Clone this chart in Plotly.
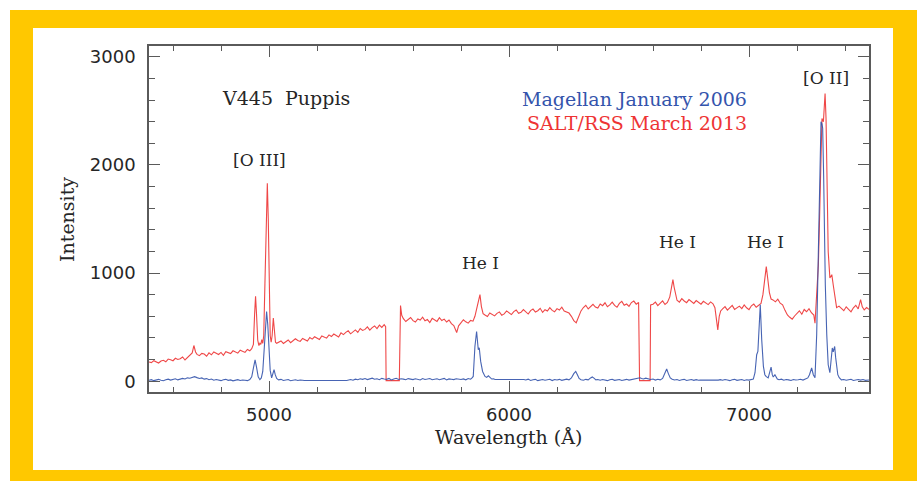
import plotly.graph_objects as go

# ---------------- data ----------------
# SALT/RSS March 2013 (red)
salt_wl = [
    4500,4510,4520,4530,4540,4550,4560,4570,4580,4590,4600,4610,4620,4630,4640,4650,4660,4670,4680,4687,4694,
    4700,4710,4720,4730,4740,4750,4760,4770,4780,4790,4800,4810,4820,4830,4840,4850,4860,4870,4880,4890,4900,4910,4920,4928,
    4935,4940,4944,4948,4953,4958,4962,4966,4970,4974,4978,4983,4988,4993,4997,5001,5005,5009,5013,5018,5022,5027,5032,
    5040,5050,5060,5070,5080,5090,5100,5110,5120,5130,5140,5150,5160,5170,5180,5190,5200,5210,5220,5230,5240,5250,
    5260,5270,5280,5290,5300,5310,5320,5330,5340,5350,5360,5370,5380,5390,5400,5410,5420,5430,5440,5450,5460,5470,
    5480,5486,5488,5543,5545,5548,5553,
    5560,5570,5580,5590,5600,5610,5620,5630,5640,5650,5660,5670,5680,5690,5700,5710,5720,5730,5740,5750,5760,5770,
    5782,5790,5800,5810,5820,5830,5840,5850,5858,5866,5873,5879,5885,5892,
    5900,5910,5920,5930,5940,5950,5960,5970,5980,5990,6000,6010,6020,6030,6040,6050,6060,6070,6080,6090,
    6100,6110,6120,6130,6140,6150,6160,6170,6180,6190,6200,6210,6220,6230,6240,
    6250,6260,6270,6280,6290,6300,
    6310,6320,6330,6340,6350,6360,6370,6380,6390,6400,6410,6420,6430,6440,6450,6460,6470,6480,6490,6500,6510,6520,6530,6540,
    6544,6588,6590,
    6600,6610,6620,6630,6640,6650,6660,
    6670,6678,6683,6688,6695,
    6700,6710,6720,6730,6740,6750,6760,6770,6780,6790,6800,6810,6820,6830,6840,6850,
    6858,6864,6870,6876,6882,
    6890,6900,6910,6920,6930,6940,6950,6960,6970,6980,6990,7000,7010,7020,7030,7040,
    7050,7058,7066,7072,7078,7085,7092,
    7100,7110,7120,7130,7140,7150,7160,7170,7180,7190,7200,7210,7220,7230,7240,7250,7260,7270,
    7275,7282,7289,7293,7299,7304,7310,7314,7317,7321,7324,7330,7337,7345,7351,7358,7365,
    7375,7385,7395,7405,7415,7425,7435,7445,7455,7465,7472,7480,7490,7500]
salt_int = [
    178,172,190,181,168,186,193,179,205,198,189,212,201,207,224,196,218,232,262,330,270,
    248,236,257,251,231,262,244,270,259,247,266,240,272,263,255,281,268,259,287,274,266,293,281,300,
    340,620,785,620,380,330,350,340,385,350,420,900,1500,1830,1500,900,420,360,420,585,460,360,350,
    358,372,349,365,381,356,370,392,377,368,395,381,372,404,389,411,396,385,419,407,398,428,
    413,436,421,409,447,431,452,466,438,459,474,451,487,469,479,502,472,495,511,486,518,497,
    523,505,5,5,600,700,610,
    578,552,571,589,560,547,575,566,592,558,570,543,581,569,553,588,561,574,547,566,532,515,
    450,512,541,568,549,537,562,555,600,680,770,800,690,625,
    612,598,631,618,604,627,641,609,622,650,633,616,644,659,628,637,662,645,621,653,
    667,640,652,674,636,661,649,680,655,642,671,658,684,649,640,
    630,600,560,540,590,650,
    681,702,668,694,711,686,677,714,698,725,689,706,731,701,684,719,738,703,714,692,727,741,712,728,
    5,5,705,
    712,731,699,721,743,709,728,
    780,900,940,870,780,
    748,731,763,742,726,755,738,719,746,731,712,739,724,708,733,716,
    680,560,475,600,650,
    668,689,657,678,701,664,683,694,671,706,679,662,697,713,684,702,
    720,800,980,1060,950,820,760,
    752,734,758,721,706,655,612,591,574,603,628,651,619,663,642,671,633,612,
    537,830,1075,1415,2120,2430,2400,2615,2660,2430,1815,1200,955,985,890,770,680,
    694,671,652,688,667,641,679,702,668,755,688,659,681,664]

# Magellan January 2006 (blue)
mag_wl = [
    4500,4510,4520,4530,4540,4550,4560,4570,4580,4590,4600,4610,4620,4630,4640,4650,4660,4670,4680,4690,
    4700,4710,4720,4730,4740,4750,4760,4770,4780,4790,4800,4810,4820,4830,4840,4850,4860,4870,4880,4890,
    4900,4910,4920,4928,4935,4942,4948,4955,4962,4968,4974,4980,4985,4990,4995,5000,5005,5011,5016,5021,5026,5032,
    5040,5050,5060,5070,5080,5090,5100,5110,5120,5130,5140,5147,5324,
    5330,5340,5350,5360,5370,5380,5390,5400,5410,5420,5430,5440,5450,5460,5470,5480,5490,5500,5510,5520,
    5530,5540,5550,5560,5570,5580,5590,
    5600,5610,5620,5630,5640,5650,5660,5670,5680,5690,5700,5710,5720,5730,5740,5750,5760,5770,5780,5790,
    5800,5810,5820,5830,5840,
    5846,5851,5858,5865,5872,5876,5882,5890,5900,5907,5914,5921,5928,5935,5942,
    6062,6070,6080,6090,6100,6110,6120,6130,6140,6150,6160,6170,6180,6190,6200,6210,6220,6230,6240,6250,
    6260,6270,6278,6285,6292,
    6300,6310,6320,6330,6340,6347,6354,6362,6370,
    6380,6390,6400,6410,6420,6430,6440,6450,6460,6470,6480,6490,6500,6510,6520,6530,
    6540,6546,6552,6560,6570,6580,6590,6600,6610,6620,6630,6640,6648,6657,6664,6672,
    6680,6690,6700,6710,6720,6730,6740,6750,6760,6770,6780,6790,6796,6872,
    6880,6890,6900,6910,6920,6930,6940,6950,6960,6970,6980,6990,7000,7010,7018,
    7025,7032,7037,7043,7047,7053,7060,7066,7071,7080,7086,7092,7097,7101,7108,7113,7118,
    7125,7135,7145,7155,7165,7175,7185,7195,7205,7215,7225,7235,
    7245,7252,7261,7268,7275,7282,7289,7296,7300,7304,7307,7311,7313,7318,7324,7330,7337,7342,7347,7351,
    7357,7361,7365,7370,7376,
    7385,7395,7405,7415,7425,7435,7445,7455,7465,7475,7485,7495,7500]
mag_int = [
    8,14,5,11,17,9,4,13,19,10,15,22,12,18,26,20,31,27,36,42,
    33,25,30,19,24,14,20,9,15,11,5,13,17,8,12,3,10,14,6,11,
    8,5,15,40,120,198,130,40,14,30,90,300,520,645,520,300,100,30,70,106,60,25,
    12,17,7,10,15,4,9,13,6,11,8,6,6,
    11,16,9,19,14,22,17,24,15,21,28,18,23,14,26,20,17,25,12,21,
    27,16,22,19,13,24,18,
    15,22,18,11,24,16,20,25,13,19,22,14,17,26,12,21,18,15,23,19,
    16,21,13,24,18,
    30,44,321,460,291,309,183,90,44,35,50,30,20,22,15,
    15,11,19,7,14,17,5,12,16,9,13,18,6,15,11,17,8,14,19,12,
    30,70,90,60,25,
    14,9,17,12,30,39,28,12,16,
    9,15,11,5,14,18,8,12,16,6,13,17,10,14,19,22,
    28,32,25,20,28,22,16,20,10,18,12,25,60,113,70,30,
    18,11,15,7,13,17,6,12,15,8,14,9,10,10,
    14,9,16,11,5,13,17,8,12,15,6,13,10,16,20,
    78,245,275,568,706,383,137,60,44,30,80,131,60,39,60,30,20,
    14,19,9,15,12,6,16,11,14,18,10,17,
    30,60,122,60,32,430,1200,2275,2400,2380,2340,1900,1510,890,430,152,78,200,307,272,
    321,220,125,60,32,
    12,16,9,14,18,7,13,16,10,15,8,13,11]

x_ticks = [5000, 6000, 7000]
y_ticks = [0, 1000, 2000, 3000]

object_name = "V445  Puppis"
series_names = ["Magellan January 2006", "SALT/RSS March 2013"]
line_labels = ["[O III]", "He I", "He I", "He I", "[O II]"]

# ---------------- layout helpers ----------------
W, H = 917, 481
ML, MR, MT, MB = 149, 48, 46, 89
PW, PH = W - ML - MR, H - MT - MB


def px(x, y):
    return (x - ML) / PW, (H - MB - y) / PH


BLUE = "rgb(52,84,172)"
RED = "rgb(238,52,52)"
INK = "#262626"
SERIF = "DejaVu Serif"

fig = go.Figure()
fig.add_trace(go.Scatter(x=salt_wl, y=salt_int, mode="lines",
                         line=dict(color=RED, width=1.1), opacity=0.9,
                         name=series_names[1], hoverinfo="skip"))
fig.add_trace(go.Scatter(x=mag_wl, y=mag_int, mode="lines",
                         line=dict(color=BLUE, width=1.1), opacity=0.9,
                         name=series_names[0], hoverinfo="skip"))

axis_common = dict(showline=True, linecolor="#5a5a5a", linewidth=1.5, mirror="ticks",
                   ticks="inside", ticklen=11, tickwidth=1.3, tickcolor="#5a5a5a",
                   showgrid=False, zeroline=False,
                   tickfont=dict(family="DejaVu Sans", size=18, color=INK))

fig.update_xaxes(range=[4500, 7500], tickvals=x_ticks,
                 minor=dict(dtick=200, tick0=0, ticks="inside", ticklen=5,
                            tickwidth=1.3, tickcolor="#5a5a5a", showgrid=False),
                 ticklabelstandoff=6, **axis_common)
fig.update_yaxes(range=[-100, 3100], tickvals=y_ticks,
                 minor=dict(dtick=200, tick0=0, ticks="inside", ticklen=6,
                            tickwidth=1.3, tickcolor="#5a5a5a", showgrid=False),
                 ticklabelstandoff=8, **axis_common)

# frame: yellow border with white inner card
shapes = []
x0, y0 = px(10, 481)
x1, y1 = px(917, 10)
shapes.append(dict(type="rect", xref="paper", yref="paper", x0=x0, y0=y0, x1=x1, y1=y1,
                   fillcolor="#FFC800", line=dict(width=0), layer="below"))
x0, y0 = px(33, 470)
x1, y1 = px(893, 28)
shapes.append(dict(type="rect", xref="paper", yref="paper", x0=x0, y0=y0, x1=x1, y1=y1,
                   fillcolor="white", line=dict(width=0), layer="below"))

annots = []


def add_text(text, x, y, xanchor="center", color=INK, size=19, angle=0):
    ax, ay = px(x, y)
    annots.append(dict(text=text, x=ax, y=ay, xref="paper", yref="paper",
                       xanchor=xanchor, yanchor="middle", showarrow=False,
                       textangle=angle, font=dict(family=SERIF, size=size, color=color)))


add_text(object_name, 220, 98, xanchor="left")
add_text(series_names[0], 749, 99, xanchor="right", color=BLUE)
add_text(series_names[1], 749, 123, xanchor="right", color=RED)
add_text(line_labels[0], 259, 160, size=17)
add_text(line_labels[1], 480, 263, size=17)
add_text(line_labels[2], 677, 242, size=17)
add_text(line_labels[3], 765, 242, size=17)
add_text(line_labels[4], 826, 78, size=17)
add_text("Wavelength (Å)", 508, 437)
add_text("Intensity", 67, 220, angle=-90)

fig.update_layout(width=W, height=H, margin=dict(l=ML, r=MR, t=MT, b=MB),
                  paper_bgcolor="white", plot_bgcolor="rgba(0,0,0,0)",
                  showlegend=False, shapes=shapes, annotations=annots)

fig.write_html("out.html")
